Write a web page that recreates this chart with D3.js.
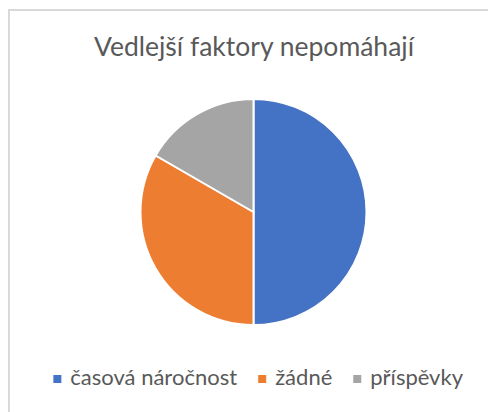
<!DOCTYPE html>
<html>
<head>
<meta charset="utf-8">
<script src="https://cdn.jsdelivr.net/npm/d3@7"></script>
<style>
  html, body { margin: 0; padding: 0; background: #fff; }
  svg { display: block; }
</style>
</head>
<body>
<svg id="chart" width="488" height="412"></svg>
<script>
const title = "Vedlejší faktory nepomáhají";
const categories = ["časová náročnost", "žádné", "příspěvky"];
const values = [3, 2, 1];
const colors = ["#4472C4", "#ED7D31", "#A5A5A5"];

const W = 488, H = 412;
const svg = d3.select("#chart");
const font = "Lato, 'Liberation Sans', sans-serif";

svg.append("rect")
  .attr("x", 9).attr("y", 10)
  .attr("width", W + 20).attr("height", H + 20)
  .attr("fill", "#fff")
  .attr("stroke", "#D9D9D9")
  .attr("stroke-width", 2);

svg.append("text")
  .attr("x", 254).attr("y", 56)
  .attr("text-anchor", "middle")
  .attr("font-family", font)
  .attr("font-size", 26.5)
  .attr("fill", "#595959")
  .text(title);

const data = categories.map((c, i) => ({ name: c, value: values[i], color: colors[i] }));
const pie = d3.pie().value(d => d.value).sort(null);
const arc = d3.arc().innerRadius(0).outerRadius(113);

const g = svg.append("g").attr("transform", "translate(253.5,212)");
g.selectAll("path")
  .data(pie(data))
  .join("path")
  .attr("d", arc)
  .attr("fill", d => d.data.color)
  .attr("stroke", "#fff")
  .attr("stroke-width", 2)
  .attr("stroke-linejoin", "round");

// legend
const legend = svg.append("g");
const items = legend.selectAll("g").data(data).join("g");
items.append("rect")
  .attr("width", 8).attr("height", 8)
  .attr("y", -10)
  .attr("fill", d => d.color);
items.append("text")
  .attr("x", 17)
  .attr("y", 0)
  .attr("font-family", font)
  .attr("font-size", 22)
  .attr("fill", "#595959")
  .text(d => d.name);

const gap = 21;
const widths = items.nodes().map(n => n.getBBox().width);
const total = d3.sum(widths) + gap * (widths.length - 1);
let cx = 258.5 - total / 2;
items.attr("transform", (d, i) => {
  const t = `translate(${cx},385)`;
  cx += widths[i] + gap;
  return t;
});
</script>
</body>
</html>
